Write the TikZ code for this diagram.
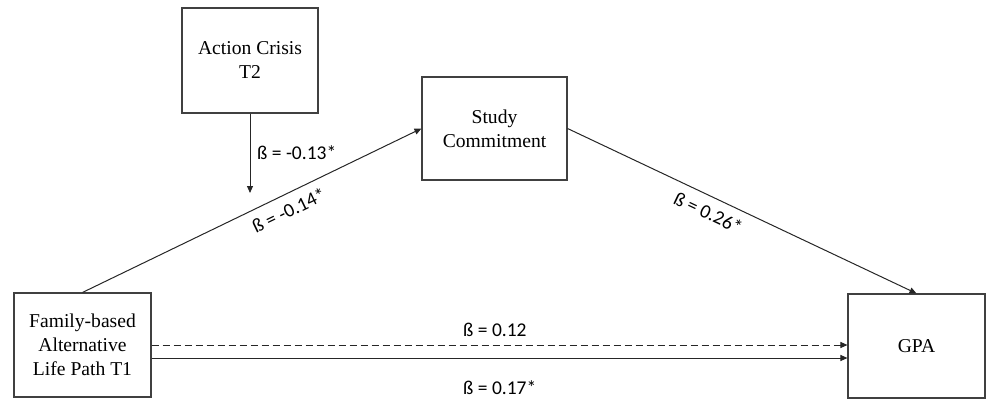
\documentclass[tikz,border=0pt]{standalone}
\usepackage{fontspec}
\setmainfont{Liberation Serif}
\newfontfamily\boxfont{Liberation Serif}
\newfontfamily\labfont{Carlito}
\usetikzlibrary{arrows.meta,calc}
\begin{document}
\begin{tikzpicture}[x=1pt,y=1pt,
  box/.style={draw=black!75, line width=1.1pt, align=center, inner sep=0pt,
    font=\boxfont\fontsize{19.6}{24}\selectfont},
  conn/.style={draw=black!85, line width=1pt, -{Triangle[length=7pt,width=6pt]}},
  lab/.style={font=\labfont\fontsize{19.5}{22}\selectfont, inner sep=0pt}]
\useasboundingbox (0,0) rectangle (986,-399);
\node[box, minimum width=136pt, minimum height=105pt] (crisis) at (250,-60.5) {Action Crisis\\T2};
\node[box, minimum width=145pt, minimum height=103pt] (study) at (494.5,-128.5) {Study\\Commitment};
\node[box, minimum width=137pt, minimum height=104pt] (family) at (82.5,-345) {Family-based\\Alternative\\Life Path T1};
\node[box, minimum width=137pt, minimum height=104pt] (gpa) at (916.5,-346) {GPA};
\coordinate (mod) at (250,-193);
\draw[conn] (crisis.south) -- (mod);
\node[lab, anchor=west] (l13) at (257,-153) {ß = -0.13*};
\draw[conn] (family.north) -- node[lab, pos=0.588, sloped, yshift=-16pt] (l14) {ß = -0.14*} (study.west);
\draw[conn] (study.east) -- node[lab, pos=0.423, sloped, yshift=-16pt] (l26) {ß = 0.26*} (gpa.north);
\coordinate (d1) at ($(family.east)+(0,0)$);
\coordinate (s1) at ($(family.east)+(0,-13)$);
\draw[conn, dash pattern=on 7pt off 4pt] (d1) -- (d1 -| gpa.west);
\draw[conn] (s1) -- (s1 -| gpa.west);
\node[lab, anchor=west] (l12) at (463,-330) {ß = 0.12};
\node[lab, anchor=west] (l17) at (463,-388) {ß = 0.17*};
\end{tikzpicture}
\end{document}
